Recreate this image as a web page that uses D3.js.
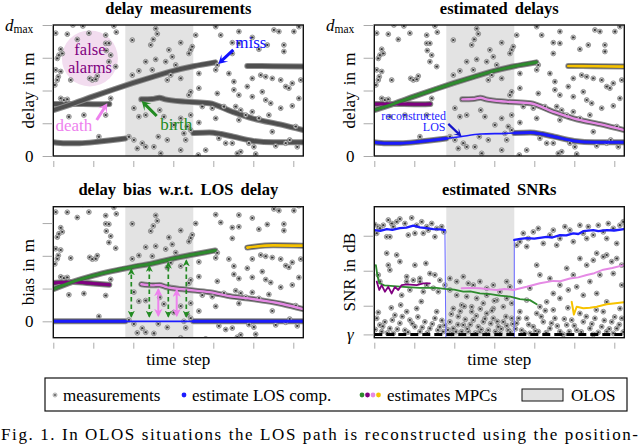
<!DOCTYPE html>
<html>
<head>
<meta charset="utf-8">
<script src="https://cdn.jsdelivr.net/npm/d3@7"></script>
<style>
body { margin: 0; background: #fff; }
svg { display: block; }
svg text { font-family: "Liberation Serif", "DejaVu Serif", serif; }
</style>
</head>
<body>
<svg id="fig" width="640" height="444" font-family="Liberation Serif, DejaVu Serif, serif"></svg>
<script>
// time axis (no numbers shown, only ticks)
var timeDomain = [0, 125]
var timeTicks = [0, 20, 40, 60, 80, 100, 120]
var olosSpan = [36, 70]

// delay in units of dmax/4 * 10  (dmax = 40)
var delayTicks = [0, 10, 20, 30, 40]
var biasTicks = [0, 10, 20, 30]
var snrTicks = [10, 20, 30]
var gammaSnr = 1.8

// LOS delay (true / reconstructed)
var losDelay = [[0,4.2],[6,3.9],[13,3.9],[23,4.4],[33,5.1],[43,5.9],[53,6.7],[66,6.9],[78,7.2],[84,6.7],[90,5.9],[100,4.6],[110,4.2],[125,4.2]]
// MPC tracks (delay)
var purpleTrack = [[0,15.9],[10,15.9],[20,15.8],[28,15.9]]
var greenTrack = [[0,14.0],[10,16.0],[20,18.2],[30,20.3],[40,22.3],[50,24.2],[60,26.0],[70,27.4],[81,28.6]]
var pinkTrack = [[44,17.3],[49.5,17.4],[53,17.8],[56,17.3],[66,16.6],[78,16.1],[89.5,13.5],[99.5,11.5],[114.5,9.5],[125,7.9]]
var yellowTrack = [[97,27.5],[110,27.4],[125,27.3]]

// clutter / false alarm measurements (time, delay)
var delayMeas = [
 [1.2,37.5],[7,37.2],[9.8,40],[12,35.6],[14.8,39.7],[17.8,37.5],[26.2,36.9],[30.3,39.7],[31.5,37.8],
 [3.7,32.6],[2.8,30.8],[2,29.8],[4.5,31.3],[26.2,34.4],[27.8,34.4],[26.5,32.2],[28.7,30.8],
 [1.2,26.3],[3.7,25.8],[2.5,24.2],[2,23.2],[0.8,21.7],[8.7,23.2],[18.2,23.7],[19.5,23.2],[21.2,23.4],[22,24.4],
 [27.8,28.8],[31.2,27.3],[3.7,17.6],[5.3,17.1],[7,17.3],[7.8,12],[15.3,12.5],[22.8,5.9],[26.2,12.5],[28.7,17.6],
 [39.5,35.4],[51.2,38.9],[52,37.3],[50,35.6],[48.7,33.9],[57.8,32.4],[51.2,29.5],[59.5,30.3],[63.7,34.6],[67.8,31.3],[68.7,32.4],[69.5,33.4],
 [46.2,28.8],[56.2,28.8],[61.2,27.8],[39.5,24.7],[42.8,26],[49.5,26.3],[57,23.2],[58.7,24.7],[63.7,23.7],[68.7,19.6],[67.8,18.6],
 [40.3,14.6],[42.8,12],[46.2,12.5],[53.2,14],[55.3,12],[63.7,11.5],[60.3,9.5],[68.7,12.5],[67,9],[68.7,7.9],
 [37.8,5.9],[40.3,4.9],[42,2.3],[44.5,3.9],[46.2,2.8],[50.3,2.8],[52.5,5.9],[53.7,0.8],[57,4.9],[63.7,1.8],[66.2,4.9],[65.3,6.9],
 [71.2,36.9],[81.2,39.5],[83.7,36.9],[89.5,34.6],[92.8,34.4],[89.5,31.3],[92.8,38],[99.5,36.2],[102.8,32.6],[107,33.9],[110.3,38.5],[112.8,38],[115.3,33.9],[115.3,31.9],[122.8,39.5],[120.3,38],
 [72.8,25.2],[82,27.8],[81.2,26.3],[87.8,25.2],[90.3,22.7],[99.5,23.7],[103.7,24.7],[106.2,24.2],[109.5,23.7],[113.7,23.2],[116.2,21.2],[117.8,20.7],[119.5,22.2],[123.7,23.2],[122.8,17.6],
 [72.8,20.7],[82,19.1],[90.3,20.2],[92.8,18.6],[97,21.2],[99.5,18.1],[104.5,19.6],[106.2,17.1],[108.7,16.1],[113.7,14.6],[119.5,15.3],
 [74.5,15.1],[79.5,14.6],[81.2,11.5],[85.3,15.1],[91.2,15.1],[93.7,14],[96.2,12.5],[99.5,13.5],[92.8,11],[102.8,11.5],[107.8,12.5],
 [72.8,10.2],[109.5,7.4],[121.2,9],
 [72.5,0.3],[76.2,1.8],[82.8,5.4],[86.2,3.9],[89.5,3.9],[92,0.8],[93.7,1.3],[101.2,0.6],[100.3,2.8],[111.2,3.1],[116.2,3.9],[118.2,4.9],[122,2.8],[97.8,3.9]
]

// estimated SNRs (dB)
var snrLosA = [[0.3,31.6],[3,31.4],[6.2,31.9],[9,31.7],[12.8,32.2],[16,32.3],[19.5,32.9],[22.8,32.4],[26,32.2],[29.5,31.9],[33,31.8],[35.3,31.6]]
var snrLosB = [[70,28.8],[73,29.1],[76.2,29.3],[80,29.2],[86.2,29.7],[89,29.5],[92.8,30.2],[96,30.1],[99.5,30.7],[102,30.5],[104.5,31.3],[109.5,31.6],[112,31.3],[116.2,31.6],[120,31.5],[124.8,31.9]]
var snrLosOlos = [[35.3,31.6],[35.8,0],[70,0],[70,28.8]]
var snrGreen = [[0.8,21.6],[1.5,18.8],[2.5,16.5],[5,15.8],[14.5,15.4],[22.8,15.1],[30,15.2],[35.3,14.8],[40,14.6],[44.5,14.0],[48,14.1],[52.8,13.5],[58,13.3],[62.8,12.9],[68,12.6],[72.8,11.9],[77.8,11.6],[81.2,10.4]]
var snrPurple = [[1.2,16.9],[2.5,14.5],[3.7,15.9],[5.3,14.0],[7,15.4],[8.7,13.5],[10.3,15.4],[12,14.5],[13.7,15.9],[16.2,16.1],[21.2,15.9],[24.5,16.4],[27.8,16.4]]
var snrPink = [[43.7,15.0],[47.8,15.1],[52.8,15.0],[57,14.7],[61.2,14.5],[65,14.8],[69.5,14.5],[76.2,15.4],[82.8,16.4],[89.5,17.1],[93,17.0],[97.8,17.8],[102,18.1],[106.2,18.8],[110,19.3],[114.5,20.3],[119,20.8],[124.8,21.6]]
var snrYellow = [[98.7,11.1],[99.8,7.5],[101.2,9.7],[104.5,9.3],[107.8,9.4],[111.2,9.7],[116.2,10.4],[124.8,11.0]]

var snrMeas = [
 [0.3,33.2],[2,32.6],[4.5,33],[7,34.5],[8.7,33.5],[11.2,34],[12.8,34.8],[15.3,33.5],[18.7,35.1],[21.2,33],[23.7,34],[26.2,32.6],[28.7,33.5],[31.2,32.1],[33.7,32.6],[34.8,31.1],[6.2,29.7],[7.8,29.7],[17,30.2],[20.3,30.7],[24.5,30.7],[27,31.6],[30.3,29.7],[2.8,32.1],[1.2,30.7],[9.5,32.6],
 [71.2,27.3],[72.8,28.3],[74.5,30.7],[77,29.2],[79.5,31.1],[82,32.1],[84.5,27.8],[87.8,30.2],[89.5,31.6],[92.8,29.2],[95.3,32.6],[97.8,31.6],[99.5,28.3],[102.8,33],[104.5,30.7],[107,32.6],[109.5,30.2],[112,33],[114.5,31.1],[117,33.5],[119.5,32.1],[121.2,27.8],[122.8,33],[124.5,34],[76.2,26.9],[91.2,27.3],[106.2,29.2],[116.2,29.2],
 [2,18.8],[2.8,16.9],[6.2,25],[11.2,24.5],[7,21.6],[7.8,20.2],[12.8,22.6],[16.2,18.3],[20.3,21.6],[25.8,22.1],[22.8,17.8],[27.8,19.2],[30.3,18.8],[32.8,17.3],[35.3,15.9],[37.8,14.5],
 [16.2,16.9],[19.5,17.3],[22.8,16.9],[26.2,15.9],[29.5,15],[32,14],[17.8,14.5],[24.5,14],[13.7,13],
 [37.8,17.8],[41.2,16.9],[44.5,18.3],[47,16.4],[49.5,15.9],[52.8,16.9],[56.2,15],[59.5,15.9],[62.8,14],[66.2,16.9],[67.8,15.4],[41.2,13],[46.2,12.6],[51.2,12.1],[56.2,13],[61.2,11.6],[66.2,12.1],[68.7,10.7],[39.5,9.2],[43.7,10.2],[48.7,9.7],[54.5,10.7],[59.5,9.2],[64.5,9.7],
 [72.8,16.9],[77.8,15],[81.2,21.6],[82.8,18.8],[87.8,17.8],[89.5,13.5],[92.8,15.9],[96.2,20.7],[99.5,18.8],[102.8,23.5],[106.2,21.6],[109.5,23],[111.2,25],[114.5,24],[116.2,24.5],[118.7,22.6],[121.2,23.5],[123.7,21.6],[119.5,19.2],[112.8,18.8],[107.8,16.9],[101.2,15.4],[97,14.5],[86.2,11.1],[92.8,12.1],[104.5,13],[111.2,13.5],[116.2,11.1],[123.7,15.9],[76.2,11.6],[82.8,9.7],
 [1.2,6.4],[2.8,4.5],[5.3,5.4],[7.8,3.5],[10.3,7.3],[12.8,5],[15.3,3],[17.8,5.9],[20.3,4],[22.8,2.6],[25.3,5.4],[27.8,3.5],[30.3,6.4],[32.8,4],[34.5,2.6],[3.7,2.6],[9.5,2.1],[16.2,8.3],[21.2,9.2],[31.2,8.3],
 [37.8,5.4],[39.5,3.5],[42,6.9],[44.5,4.5],[47,2.6],[49.5,5.9],[52,4],[54.5,5.4],[57,3],[59.5,6.4],[62,4],[64.5,5.4],[67,3],[68.7,6.4],[38.7,2.1],[43.7,2.6],[52.8,2.6],[62.8,2.1],[56.2,7.8],[48.7,8.3],
 [71.2,5],[73.7,3],[76.2,6.4],[79.5,4],[82,2.6],[84.5,5.4],[87.8,3.5],[90.3,6.4],[92.8,2.6],[96.2,4.5],[98.7,5.9],[101.2,3],[104.5,5.4],[107.8,3.5],[110.3,6.4],[113.7,4],[116.2,2.6],[118.7,5.4],[121.2,3.5],[123.7,6.4],[72.8,8.3],[81.2,7.8],[89.5,8.8],[102.8,7.8],[114.5,8.3],[122.8,9.2],[77.8,2.1],[94.5,1.8],[109.5,1.8],[119.5,2.1],
 [0.5,3.2],[2,8.1],[4.2,4.1],[6.5,2.2],[9,5.9],[11.5,3.3],[14,6.9],[16.8,2.4],[19,4.9],[21.8,6.8],[24,3.8],[26.5,2.2],[29,4.8],[31.8,3],[33.8,5.8],[35.2,4.4],[13.2,10.2],[23.5,11.2],[8.5,9.4],
 [36.8,3.1],[38.5,7.6],[40.8,2.6],[41.8,4.6],[43,8.4],[45.5,6.1],[46.5,3.4],[48,4.6],[50.6,2.2],[51,7.1],[53.5,3.2],[55.3,6.3],[56,2.1],[58.2,4.9],[58.8,8.6],[60.6,2.6],[61.5,5.5],[63.5,3.4],[65.8,6.9],[66.2,4.3],[68,2.4],[69.2,4.8],[45,9.8],[53,9.1],[60,11.4],
 [70.6,3.4],[72.2,6.4],[75,2.3],[77.2,4.6],[80.6,2.8],[83.5,6.9],[86,2.3],[88.6,5],[91.5,4.2],[95,6.2],[97.5,2.6],[100,4.3],[103.5,2.5],[106,6.9],[108.8,4.8],[112,2.4],[115,5.8],[117.5,3.4],[120.2,6.8],[122.5,4.6],[124.5,2.5],[85.5,8.6],[96.8,9.4],[111,8.8]
]

// double arrows in bias plot: [time, from, to]
var greenArrows = [[39,1.5,15.8],[48,1.5,16.8],[57.5,1.5,17.8],[66.5,1.5,18.5]]
var pinkArrows = [[52.5,1.8,9.7],[61.7,1.8,9.5]]

var col = {
  blue: '#1c1cff', green: '#2e8b2e', purple: '#800080', pink: '#e58ae5',
  yellow: '#f7c300', olos: '#e3e3e3', track: '#4f4f4f'
}

var svg = d3.select('#fig')
var defs = svg.append('defs')

var losAt = d3.scaleLinear().domain(losDelay.map(d => d[0])).range(losDelay.map(d => d[1]))
function bias(pts) { return pts.map(d => [d[0], d[1] - losAt(d[0])]) }
function segment(pts, a, b) {
  var inner = pts.filter(d => d[0] > a && d[0] < b)
  return [[a, losAt(a)]].concat(inner, [[b, losAt(b)]])
}

function makePanel(id, box, yDom) {
  var x = d3.scaleLinear().domain(timeDomain).range([box.l, box.r])
  var y = d3.scaleLinear().domain(yDom).range([box.b, box.t])
  defs.append('clipPath').attr('id', 'clip-' + id)
    .append('rect').attr('x', box.l).attr('y', box.t).attr('width', box.r - box.l).attr('height', box.b - box.t)
  var g = svg.append('g')
  var plot = g.append('g').attr('clip-path', 'url(#clip-' + id + ')')
  plot.append('rect')
    .attr('x', x(olosSpan[0])).attr('width', x(olosSpan[1]) - x(olosSpan[0]))
    .attr('y', box.t).attr('height', box.b - box.t)
    .attr('fill', col.olos)
  var line = d3.line().x(d => x(d[0])).y(d => y(d[1])).curve(d3.curveMonotoneX)
  return { g: g, plot: plot, x: x, y: y, box: box, line: line }
}

function finish(p, yTicks, title, ylabel, xlabel) {
  var b = p.box
  p.g.append('rect').attr('x', b.l).attr('y', b.t).attr('width', b.r - b.l).attr('height', b.b - b.t)
    .attr('fill', 'none').attr('stroke', '#111').attr('stroke-width', 1.4)
  var ya = p.g.append('g').attr('transform', 'translate(' + (b.l - 0.7) + ',0)')
    .call(d3.axisLeft(p.y).tickValues(yTicks).tickSize(10).tickFormat(''))
  var xa = p.g.append('g').attr('transform', 'translate(0,' + (b.b + 5) + ')')
    .call(d3.axisBottom(p.x).tickValues(timeTicks).tickSize(6).tickFormat(''))
  ;[ya, xa].forEach(a => {
    a.select('.domain').remove()
    a.selectAll('line').attr('stroke', '#aaa').attr('stroke-width', 1)
  })
  var cx = (b.l + b.r) / 2
  p.g.append('text').attr('x', cx).attr('y', b.t - 11.3).attr('text-anchor', 'middle')
    .attr('font-size', 16.5).attr('font-weight', 'bold').attr('word-spacing', 3).text(title)
  p.g.append('text').attr('transform', 'translate(' + (b.l - 25) + ',' + ((b.t + b.b) / 2) + ') rotate(-90)')
    .attr('text-anchor', 'middle').attr('dominant-baseline', 'central')
    .attr('font-size', 17).attr('word-spacing', 2).text(ylabel)
  if (xlabel) {
    p.g.append('text').attr('x', cx).attr('y', b.b + 27).attr('text-anchor', 'middle')
      .attr('font-size', 17).attr('word-spacing', 2).text(xlabel)
  }
}

function grayTrack(p, pts) {
  p.plot.append('path').attr('d', p.line(pts)).attr('fill', 'none')
    .attr('stroke', '#8c8c8c').attr('stroke-width', 6).attr('stroke-linecap', 'round')
  p.plot.append('path').attr('d', p.line(pts)).attr('fill', 'none')
    .attr('stroke', col.track).attr('stroke-width', 4).attr('stroke-linecap', 'round')
}
function estLine(p, pts, c, w) {
  p.plot.append('path').attr('d', p.line(pts)).attr('fill', 'none')
    .attr('stroke', c).attr('stroke-width', w).attr('stroke-linecap', 'round').attr('stroke-linejoin', 'round')
}
var starPath = 'M-1.5,0L1.5,0M-0.75,-1.3L0.75,1.3M-0.75,1.3L0.75,-1.3'
function measMarks(p, pts) {
  var m = p.plot.append('g').selectAll('g').data(pts).join('g')
    .attr('transform', d => 'translate(' + p.x(d[0]) + ',' + p.y(d[1]) + ')')
  m.append('circle').attr('r', 2.4).attr('fill', '#e4e4e4').attr('stroke', '#707070').attr('stroke-width', 0.7)
  m.append('path').attr('d', starPath).attr('stroke', '#2a2a2a').attr('stroke-width', 0.8)
}
function fatArrow(g, x1, y1, x2, y2, c, shaft, headL, headW) {
  var dx = x2 - x1, dy = y2 - y1, L = Math.hypot(dx, dy), ux = dx / L, uy = dy / L, nx = -uy, ny = ux
  var bx = x2 - ux * headL, by = y2 - uy * headL
  var nb = 0.35 * headL
  var pts = [
    [x1 + nx * shaft / 2, y1 + ny * shaft / 2], [bx + ux * nb + nx * shaft / 2, by + uy * nb + ny * shaft / 2],
    [bx + nx * headW / 2, by + ny * headW / 2], [x2, y2], [bx - nx * headW / 2, by - ny * headW / 2],
    [bx + ux * nb - nx * shaft / 2, by + uy * nb - ny * shaft / 2], [x1 - nx * shaft / 2, y1 - ny * shaft / 2]
  ]
  g.append('polygon').attr('points', pts.map(q => q.join(',')).join(' ')).attr('fill', c)
}
function yLabelText(p, v, label, italic) {
  p.g.append('text').attr('x', p.box.l - 24).attr('y', p.y(v)).attr('text-anchor', 'middle')
    .attr('dominant-baseline', 'central').attr('font-size', 17)
    .attr('font-style', italic ? 'italic' : null).text(label)
}
function dmaxLabel(p) {
  var t = p.g.append('text').attr('x', p.box.l - 20).attr('y', p.y(40) + 5.5).attr('text-anchor', 'end').attr('font-size', 17)
  t.append('tspan').attr('font-style', 'italic').text('d')
  t.append('tspan').attr('font-size', 11.5).attr('dy', 2.5).text('max')
}

// ---------- panel 1: delay measurements ----------
var p1 = makePanel('p1', { l: 53.3, r: 303.3, t: 25, b: 156 }, [0, 40])
p1.plot.append('circle').attr('cx', p1.x(18.3)).attr('cy', p1.y(29.8)).attr('r', 28).attr('fill', '#f2dcef')
grayTrack(p1, segment(losDelay, 0, olosSpan[0]))
grayTrack(p1, segment(losDelay, olosSpan[1], 125))
grayTrack(p1, purpleTrack)
grayTrack(p1, greenTrack)
grayTrack(p1, pinkTrack)
grayTrack(p1, yellowTrack)
measMarks(p1, delayMeas)
p1.g.append('text').attr('x', p1.x(18.3)).attr('y', p1.y(30.8)).attr('text-anchor', 'middle').attr('font-size', 16.5).attr('fill', col.purple).text('false')
p1.g.append('text').attr('x', p1.x(18.3)).attr('y', p1.y(25.4)).attr('text-anchor', 'middle').attr('font-size', 16.5).attr('fill', col.purple).text('alarms')
p1.g.append('text').attr('x', p1.x(98.8)).attr('y', p1.y(33)).attr('text-anchor', 'middle').attr('font-size', 17).attr('fill', '#1010ff').text('miss')
fatArrow(p1.g, p1.x(90), p1.y(32.4), p1.x(82.5), p1.y(28.1), '#1010ff', 3, 9, 10)
p1.g.append('text').attr('x', p1.x(61.5)).attr('y', p1.y(7.9)).attr('text-anchor', 'middle').attr('font-size', 17).attr('fill', '#228b22').text('birth')
fatArrow(p1.g, p1.x(51.7), p1.y(12.2), p1.x(44.2), p1.y(16.8), '#228b22', 3, 9, 10)
p1.g.append('text').attr('x', p1.x(10.3)).attr('y', p1.y(7.5)).attr('text-anchor', 'middle').attr('font-size', 17).attr('fill', '#ee82ee').text('death')
fatArrow(p1.g, p1.x(21.7), p1.y(11), p1.x(27), p1.y(16.1), '#ee82ee', 3, 9, 10)
finish(p1, delayTicks, 'delay measurements', 'delay in m')
dmaxLabel(p1)
yLabelText(p1, 0, '0')

// ---------- panel 2: estimated delays ----------
var p2 = makePanel('p2', { l: 374.3, r: 624.3, t: 25, b: 156 }, [0, 40])
grayTrack(p2, segment(losDelay, 0, olosSpan[0]))
grayTrack(p2, segment(losDelay, olosSpan[1], 125))
grayTrack(p2, purpleTrack)
grayTrack(p2, greenTrack)
grayTrack(p2, pinkTrack)
grayTrack(p2, yellowTrack)
measMarks(p2, delayMeas)
estLine(p2, segment(losDelay, olosSpan[0], olosSpan[1]), col.blue, 1.6)
estLine(p2, segment(losDelay, 0, olosSpan[0]), col.blue, 3)
estLine(p2, segment(losDelay, olosSpan[1], 125), col.blue, 3)
estLine(p2, purpleTrack, col.purple, 3)
estLine(p2, greenTrack, col.green, 3)
estLine(p2, pinkTrack, col.pink, 2.4)
estLine(p2, yellowTrack, col.yellow, 2.6)
p2.g.append('text').attr('x', p2.x(35.8)).attr('y', p2.y(10.9)).attr('text-anchor', 'end').attr('font-size', 12).attr('fill', col.blue).text('reconstructed')
p2.g.append('text').attr('x', p2.x(35.6)).attr('y', p2.y(7.5)).attr('text-anchor', 'end').attr('font-size', 12).attr('fill', col.blue).text('LOS')
fatArrow(p2.g, p2.x(37), p2.y(9.8), p2.x(43.7), p2.y(5.9), '#1515c8', 2.2, 8, 8)
finish(p2, delayTicks, 'estimated delays', 'delay in m')
dmaxLabel(p2)
yLabelText(p2, 0, '0')

// ---------- panel 3: delay bias w.r.t. LOS delay ----------
var p3 = makePanel('p3', { l: 53.3, r: 303.3, t: 206.7, b: 337.7 }, [-5, 35])
grayTrack(p3, bias(segment(losDelay, 0, olosSpan[0])))
grayTrack(p3, bias(segment(losDelay, olosSpan[1], 125)))
grayTrack(p3, bias(purpleTrack))
grayTrack(p3, bias(greenTrack))
grayTrack(p3, bias(pinkTrack))
grayTrack(p3, bias(yellowTrack))
measMarks(p3, bias(delayMeas))
estLine(p3, bias(segment(losDelay, olosSpan[0], olosSpan[1])), col.blue, 1.6)
estLine(p3, bias(segment(losDelay, 0, olosSpan[0])), col.blue, 3)
estLine(p3, bias(segment(losDelay, olosSpan[1], 125)), col.blue, 3)
estLine(p3, bias(purpleTrack), col.purple, 3)
estLine(p3, bias(greenTrack), col.green, 3)
estLine(p3, bias(pinkTrack), col.pink, 2.4)
estLine(p3, bias(yellowTrack), col.yellow, 2.6)

function headMarker(id, c) {
  defs.append('marker').attr('id', id).attr('viewBox', '0 0 10 10').attr('refX', 8).attr('refY', 5)
    .attr('markerWidth', 4.2).attr('markerHeight', 4.2).attr('orient', 'auto-start-reverse')
    .append('path').attr('d', 'M0,0L10,5L0,10L3,5Z').attr('fill', c)
}
headMarker('hg', '#228b22')
headMarker('hp', '#ee82ee')
p3.g.append('g').selectAll('line').data(greenArrows).join('line')
  .attr('x1', d => p3.x(d[0])).attr('x2', d => p3.x(d[0]))
  .attr('y1', d => p3.y(d[1])).attr('y2', d => p3.y(d[2]))
  .attr('stroke', '#228b22').attr('stroke-width', 1.7).attr('stroke-dasharray', '4.5 3')
  .attr('marker-start', 'url(#hg)').attr('marker-end', 'url(#hg)')
p3.g.append('g').selectAll('line').data(pinkArrows).join('line')
  .attr('x1', d => p3.x(d[0])).attr('x2', d => p3.x(d[0]))
  .attr('y1', d => p3.y(d[1])).attr('y2', d => p3.y(d[2]))
  .attr('stroke', '#ee82ee').attr('stroke-width', 2)
  .attr('marker-start', 'url(#hp)').attr('marker-end', 'url(#hp)')
finish(p3, biasTicks, 'delay bias w.r.t. LOS delay', 'bias in m', 'time step')
yLabelText(p3, 0, '0')

// ---------- panel 4: estimated SNRs ----------
var p4 = makePanel('p4', { l: 374.3, r: 624.3, t: 206.7, b: 337.7 }, [0.86, 38.3])
p4.line.curve(d3.curveLinear)
measMarks(p4, snrMeas)
estLine(p4, snrLosOlos, '#6f6fff', 1.1)
estLine(p4, snrLosA, col.blue, 2.3)
estLine(p4, snrLosB, col.blue, 2.3)
estLine(p4, snrGreen, col.green, 1.8)
estLine(p4, snrPurple, col.purple, 1.8)
estLine(p4, snrPink, col.pink, 2)
estLine(p4, snrYellow, col.yellow, 2)
p4.plot.append('line').attr('x1', p4.box.l).attr('x2', p4.box.r).attr('y1', p4.y(gammaSnr)).attr('y2', p4.y(gammaSnr))
  .attr('stroke', '#000').attr('stroke-width', 3).attr('stroke-dasharray', '8 4')
finish(p4, [gammaSnr].concat(snrTicks), 'estimated SNRs', 'SNR in dB', 'time step')
yLabelText(p4, gammaSnr, 'γ', true)

// ---------- legend ----------
var lg = svg.append('g')
lg.append('rect').attr('x', 45).attr('y', 378).attr('width', 582).attr('height', 33)
  .attr('fill', '#fff').attr('stroke', '#111').attr('stroke-width', 1.2)
var ly = 395
var lm = lg.append('g').attr('transform', 'translate(55,' + ly + ')')
lm.append('circle').attr('r', 2.1).attr('fill', '#d6d6d6').attr('stroke', '#8a8a8a').attr('stroke-width', 0.5)
lm.append('path').attr('d', starPath).attr('stroke', '#333').attr('stroke-width', 0.6).attr('transform', 'scale(0.8)')
lg.append('circle').attr('cx', 184).attr('cy', ly).attr('r', 2.4).attr('fill', col.blue)
;[col.green, col.purple, col.pink, col.yellow].forEach((c, i) => {
  lg.append('circle').attr('cx', 362 + i * 5.5).attr('cy', ly).attr('r', 2.4).attr('fill', c)
})
lg.append('rect').attr('x', 522).attr('y', 389).attr('width', 41).attr('height', 12)
  .attr('fill', col.olos).attr('stroke', '#111').attr('stroke-width', 1)
var legendText = [[63, 'measurements'], [192, 'estimate LOS comp.'], [387, 'estimates MPCs'], [571, 'OLOS']]
lg.selectAll('text.lt').data(legendText).join('text').attr('class', 'lt')
  .attr('x', d => d[0]).attr('y', 400.5).attr('font-size', 17).text(d => d[1])

// caption
svg.append('text').attr('x', 1).attr('y', 440).attr('font-size', 17)
  .attr('textLength', 637).attr('lengthAdjust', 'spacing')
  .text('Fig. 1.  In OLOS situations the LOS path is reconstructed using the position-')
</script>
</body>
</html>
